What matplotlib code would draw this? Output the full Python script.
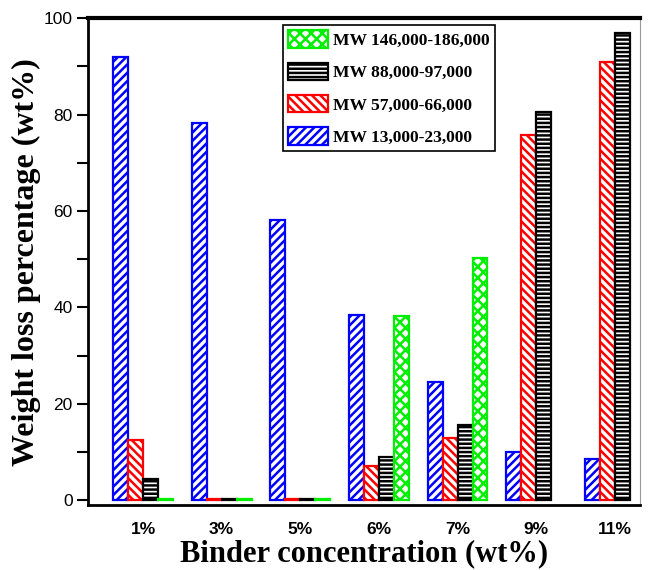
import numpy as np
import matplotlib
matplotlib.use("Agg")
import matplotlib.pyplot as plt
from matplotlib.ticker import MultipleLocator

# Binder concentrations and weight loss (wt%) for each molecular-weight grade
concentrations = ["1%", "3%", "5%", "6%", "7%", "9%", "11%"]
mw_13_23 = [92.0, 78.3, 58.2, 38.5, 24.5, 10.0, 8.5]
mw_57_66 = [12.5, 0.3, 0.3, 7.0, 13.0, 75.8, 91.0]
mw_88_97 = [4.5, 0.3, 0.3, 9.0, 15.5, 80.5, 97.0]
mw_146_186 = [0.3, 0.3, 0.3, 38.2, 50.3, np.nan, np.nan]

series = [
    ("MW 13,000-23,000", mw_13_23, "#0000ff", "////"),
    ("MW 57,000-66,000", mw_57_66, "#ff0000", "\\\\\\\\"),
    ("MW 88,000-97,000", mw_88_97, "#000000", "----"),
    ("MW 146,000-186,000", mw_146_186, "#00ee00", "xxx"),
]

plt.rcParams["hatch.linewidth"] = 1.8

fig = plt.figure(figsize=(6.54, 5.70), dpi=100)
ax = fig.add_axes([0.1346, 0.114, 0.8440, 0.854])

x = np.arange(len(concentrations))
width = 0.19
handles = {}
for i, (label, vals, color, hatch) in enumerate(series):
    offset = (i - 1.5) * width
    bars = ax.bar(x + offset, vals, width, facecolor="white", edgecolor=color,
                  hatch=hatch, linewidth=1.6, label=label)
    handles[label] = bars

ax.set_xlim(-0.70, 6.32)
ax.set_ylim(-1, 100)
ax.set_xticks(x)
ax.set_xticklabels(concentrations, fontfamily="Liberation Sans",
                   fontweight="bold", fontsize=12.5)
ax.yaxis.set_major_locator(MultipleLocator(20))
ax.yaxis.set_minor_locator(MultipleLocator(10))
for lab in ax.get_yticklabels():
    lab.set_fontfamily("Liberation Sans")
    lab.set_fontsize(12.5)

ax.tick_params(axis="x", length=0, pad=12)
ax.tick_params(axis="y", which="major", direction="out", length=8, width=1.5, pad=3)
ax.tick_params(axis="y", which="minor", direction="out", length=8, width=1.5)

for side in ("left", "bottom"):
    ax.spines[side].set_linewidth(2.0)
ax.spines["top"].set_linewidth(3.0)
ax.spines["right"].set_linewidth(0.8)
ax.spines["right"].set_color("#999999")

ax.set_xlabel("Binder concentration (wt%)", fontfamily="Liberation Serif",
              fontweight="bold", fontsize=22, labelpad=2)
ax.set_ylabel("Weight loss percentage (wt%)", fontfamily="Liberation Serif",
              fontweight="bold", fontsize=23, labelpad=2)

order = ["MW 146,000-186,000", "MW 88,000-97,000", "MW 57,000-66,000", "MW 13,000-23,000"]
leg = ax.legend([handles[k] for k in order], order, loc="upper left",
                bbox_to_anchor=(0.353, 0.9856), borderaxespad=0, fancybox=False,
                shadow=False, framealpha=1, edgecolor="black", handlelength=2.3,
                handleheight=1.15, labelspacing=0.78, handletextpad=0.25,
                borderpad=0.3, prop={"family": "Liberation Serif", "weight": "bold",
                                     "size": 12.6})
leg.get_frame().set_linewidth(1.2)

fig.savefig("out.png", dpi=100)
